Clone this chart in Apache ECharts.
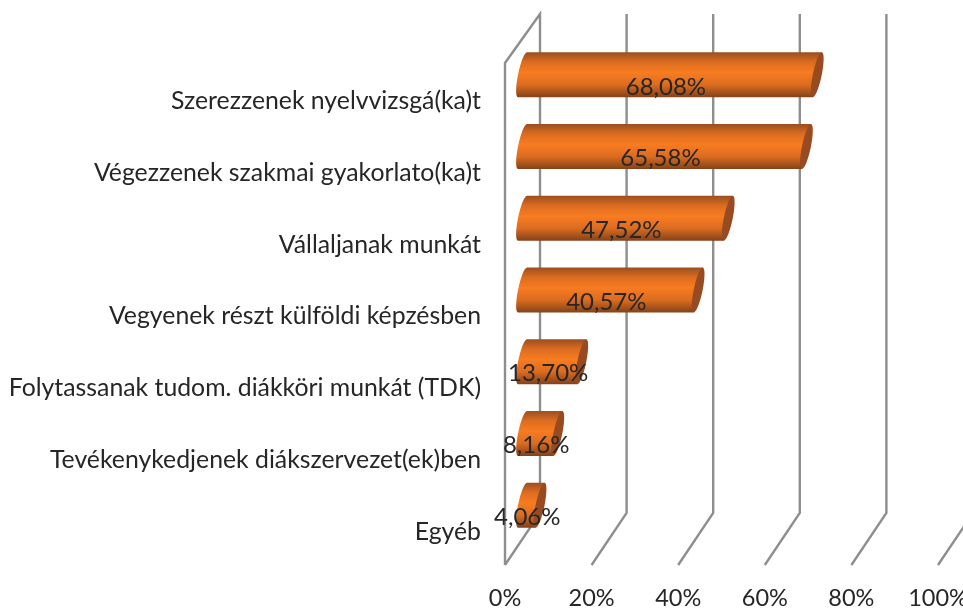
<!DOCTYPE html>
<html lang="hu">
<head>
    <meta charset="UTF-8">
    <title>Chart</title>
    <script src="https://cdn.jsdelivr.net/npm/echarts@6/dist/echarts.min.js"></script>
    <style>
        html, body { margin: 0; padding: 0; background: #fff; }
        #echarts_div { width: 963px; height: 608px; }
    </style>
</head>
<body>
<div id="echarts_div"></div>
<script type="text/javascript">
    var categories = [
        'Szerezzenek nyelvvizsgá(ka)t',
        'Végezzenek szakmai gyakorlato(ka)t',
        'Vállaljanak munkát',
        'Vegyenek részt külföldi képzésben',
        'Folytassanak tudom. diákköri munkát (TDK)',
        'Tevékenykedjenek diákszervezet(ek)ben',
        'Egyéb'
    ];
    var values = [68.08, 65.58, 47.52, 40.57, 13.70, 8.16, 4.06];
    var xTicks = [0, 20, 40, 60, 80, 100];

    var fontName = 'Lato';
    var textColor = '#262626';
    var wallColor = '#8e8e8e';

    // the picture is a fake 3D: back wall is the front plane moved by depth
    var depthX = 35;
    var barDepthX = 17.5;
    var barDepthY = -24;
    var barHalf = 22.5;
    var capA = 4.5;
    var capS = 4.5;
    var K = 0.5523;

    function pt(cx, cy, c, s) {
        return (cx + capA * c + capS * s).toFixed(2) + ' ' + (cy - barHalf * s).toFixed(2);
    }

    // half of the tilted ellipse, top to bottom round the left (dir -1) or right (dir 1)
    function halfCap(cx, cy, dir) {
        return 'C' + pt(cx, cy, dir * K, 1) + ' ' + pt(cx, cy, dir, K) + ' ' + pt(cx, cy, dir, 0) +
            ' C' + pt(cx, cy, dir, -K) + ' ' + pt(cx, cy, dir * K, -1) + ' ' + pt(cx, cy, 0, -1);
    }

    // same half, walked back from bottom to top
    function halfCapBack(cx, cy, dir) {
        return 'C' + pt(cx, cy, dir * K, -1) + ' ' + pt(cx, cy, dir, -K) + ' ' + pt(cx, cy, dir, 0) +
            ' C' + pt(cx, cy, dir, K) + ' ' + pt(cx, cy, dir * K, 1) + ' ' + pt(cx, cy, 0, 1);
    }

    function renderWall(params, api) {
        var x = api.coord([api.value(0), 0])[0];
        var box = params.coordSys;
        var top = box.y;
        var bottom = box.y + box.height;
        var points = [[x, bottom], [x + depthX, bottom - 52], [x + depthX, top - 49]];
        if (api.value(0) === 0) {
            // left side wall closes the frame
            points.push([x, top]);
            points.push([x, bottom]);
        }
        return {
            type: 'polyline',
            shape: { points: points },
            style: { fill: 'none', stroke: wallColor, lineWidth: 2.4 }
        };
    }

    function renderBar(params, api) {
        var v = api.value(0);
        var start = api.coord([0, api.value(1)]);
        var end = api.coord([v, api.value(1)]);
        var x0 = start[0] + barDepthX;
        var x1 = end[0] + barDepthX;
        var y = start[1] + barDepthY;

        var body = 'M' + pt(x1, y, 0, 1) + ' L' + pt(x0, y, 0, 1) + ' ' + halfCap(x0, y, -1) +
            ' L' + pt(x1, y, 0, -1) + ' Z';
        var cap = 'M' + pt(x1, y, 0, 1) + ' ' + halfCap(x1, y, 1) + ' ' + halfCapBack(x1, y, -1) + ' Z';

        return {
            type: 'group',
            children: [
                {
                    type: 'path',
                    shape: { pathData: body },
                    style: {
                        fill: new echarts.graphic.LinearGradient(0, 0, 0, 1, [
                            { offset: 0, color: '#9a4e20' },
                            { offset: 0.22, color: '#dc6c20' },
                            { offset: 0.45, color: '#f87c20' },
                            { offset: 0.72, color: '#dc6c20' },
                            { offset: 1, color: '#834218' }
                        ])
                    }
                },
                {
                    type: 'path',
                    shape: { pathData: cap },
                    style: { fill: '#984a20' }
                },
                {
                    type: 'text',
                    z2: 10,
                    style: {
                        text: v.toFixed(2).replace('.', ',') + '%',
                        x: (x0 + x1) / 2 - 4,
                        y: y + 12,
                        align: 'center',
                        verticalAlign: 'middle',
                        fontFamily: fontName,
                        fontSize: 24,
                        fill: textColor
                    }
                }
            ]
        };
    }

    var myChart = echarts.init(document.getElementById('echarts_div'), null, { renderer: 'canvas' });

    var option = {
        animation: false,
        backgroundColor: '#ffffff',
        grid: { left: 505, right: 25, top: 63, bottom: 43, outerBoundsMode: 'none' },
        xAxis: {
            type: 'value',
            min: 0,
            max: 100,
            interval: 20,
            axisLine: { show: false },
            axisTick: { show: false },
            splitLine: { show: false },
            axisLabel: {
                formatter: '{value}%',
                margin: 21,
                fontFamily: fontName,
                fontSize: 23.5,
                color: textColor
            }
        },
        yAxis: {
            type: 'category',
            inverse: true,
            data: categories,
            axisLine: { show: false },
            axisTick: { show: false },
            axisLabel: {
                margin: 24,
                verticalAlign: 'top',
                lineHeight: 5,
                fontFamily: fontName,
                fontSize: 24.8,
                color: textColor
            }
        },
        series: [
            {
                type: 'custom',
                name: 'wall',
                renderItem: renderWall,
                encode: { x: 0, y: 1 },
                silent: true,
                z: 1,
                data: xTicks.map(function (t) { return [t, 0]; })
            },
            {
                type: 'custom',
                name: 'bars',
                renderItem: renderBar,
                encode: { x: 0, y: 1 },
                z: 2,
                data: values.map(function (v, i) { return [v, i]; })
            }
        ]
    };

    myChart.setOption(option);
</script>
</body>
</html>
